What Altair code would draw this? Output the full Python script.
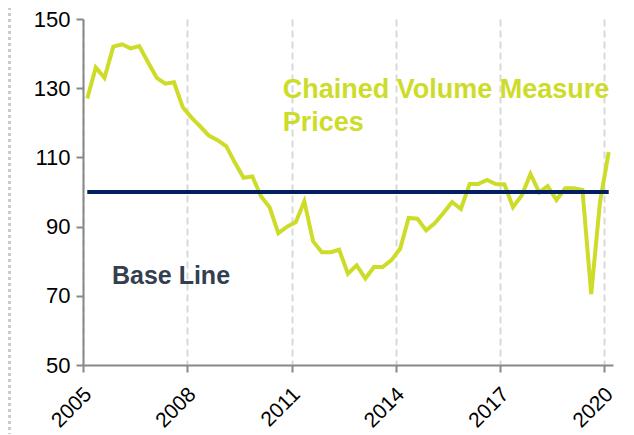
import altair as alt
import pandas as pd

# Quarterly values, 2005 Q1 .. 2020 Q1
years = [y for y in range(2005, 2021) for q in range(1, 5)][:61]
qtrs = [q for y in range(2005, 2021) for q in range(1, 5)][:61]
values = [127, 136, 133, 142, 142.7, 141.5, 142.2, 137.5,
          133, 131.3, 131.7, 124.5, 121.5, 119, 116.3, 115,
          113.2, 108.5, 104.1, 104.5, 98.7, 95.6, 88.1, 90,
          91.3, 97.3, 85.8, 82.6, 82.6, 83.3, 76.4, 78.8,
          75, 78.3, 78.3, 80.3, 83.6, 92.5, 92.3, 88.9,
          91, 93.9, 97.1, 95.1, 102.3, 102.3, 103.5, 102.3,
          102.2, 95.6, 99, 105.2, 99.9, 101.7, 97.7, 101.1,
          101.1, 100.6, 70.5, 97, 111.5]
tick_years = [2005, 2008, 2011, 2014, 2017, 2020]
y_ticks = [50, 70, 90, 110, 130, 150]
base_value = 100

df = pd.DataFrame({
    "date": [pd.Timestamp(y, 3 * q - 1, 15) for y, q in zip(years, qtrs)],
    "value": values,
})

cvm_labels = pd.DataFrame({
    "date": [pd.Timestamp(2010, 10, 1)] * 2,
    "value": [127.3, 117.7],
    "label": ["Chained Volume Measure", "Prices"],
})
base_label = pd.DataFrame({
    "date": [pd.Timestamp(2005, 11, 1)],
    "value": [73.5],
    "label": ["Base Line"],
})

LIME = "#cddc29"
NAVY = "#002060"
FONT = "Liberation Sans"

x_scale = alt.Scale(domain=[pd.Timestamp(2005, 1, 1).isoformat(), pd.Timestamp(2020, 3, 31).isoformat()])
y_scale = alt.Scale(domain=[50, 150])

x_enc = alt.X(
    "date:T", scale=x_scale, title=None,
    axis=alt.Axis(
        values=[pd.Timestamp(y, 1, 1).isoformat() for y in tick_years],
        format="%Y", labelAngle=-45, labelAlign="right", labelBaseline="middle",
        labelPadding=19, labelOffset=5, labelFontSize=21, labelFont=FONT,
        labelColor="#000000",
        tickSize=7, tickColor="#888888", tickWidth=2,
        domainColor="#888888", domainWidth=2,
        grid=True, gridColor="#d9d9d9", gridDash=[7, 4], gridWidth=2,
        labelOverlap=False, labelFlush=False,
    ),
)
y_enc = alt.Y(
    "value:Q", scale=y_scale, title=None,
    axis=alt.Axis(
        values=y_ticks, labelFontSize=22, labelFont=FONT, labelColor="#000000",
        labelPadding=6, tickSize=7, tickColor="#888888", tickWidth=2,
        domainColor="#888888", domainWidth=2, grid=False,
    ),
)

line = alt.Chart(df).mark_line(color=LIME, strokeWidth=4, strokeJoin="miter").encode(
    x=x_enc, y=y_enc
)

base = alt.Chart(df).mark_rule(color=NAVY, strokeWidth=4).encode(
    x="min(date):T", x2="max(date):T", y=alt.datum(base_value)
)

cvm_text = alt.Chart(cvm_labels).mark_text(
    align="left", baseline="alphabetic", font=FONT, fontSize=27,
    fontWeight="bold", color=LIME
).encode(x="date:T", y="value:Q", text="label:N")

base_text = alt.Chart(base_label).mark_text(
    align="left", baseline="alphabetic", font=FONT, fontSize=25,
    fontWeight="bold", color="#333f50"
).encode(x="date:T", y="value:Q", text="label:N")

border = alt.Chart(df).mark_rule(color="#cccccc", strokeWidth=3, strokeDash=[3, 3]).encode(
    x=alt.value(-74), y=alt.value(-12), y2=alt.value(420)
)

chart = alt.layer(line, base, cvm_text, base_text, border).properties(
    width=530, height=346,
    padding={"left": 75, "top": 11, "right": 13, "bottom": 69},
    autosize=alt.AutoSizeParams(type="none"),
).configure_view(stroke=None)

chart.save("out.html", embed_options={"renderer": "svg", "actions": False})
